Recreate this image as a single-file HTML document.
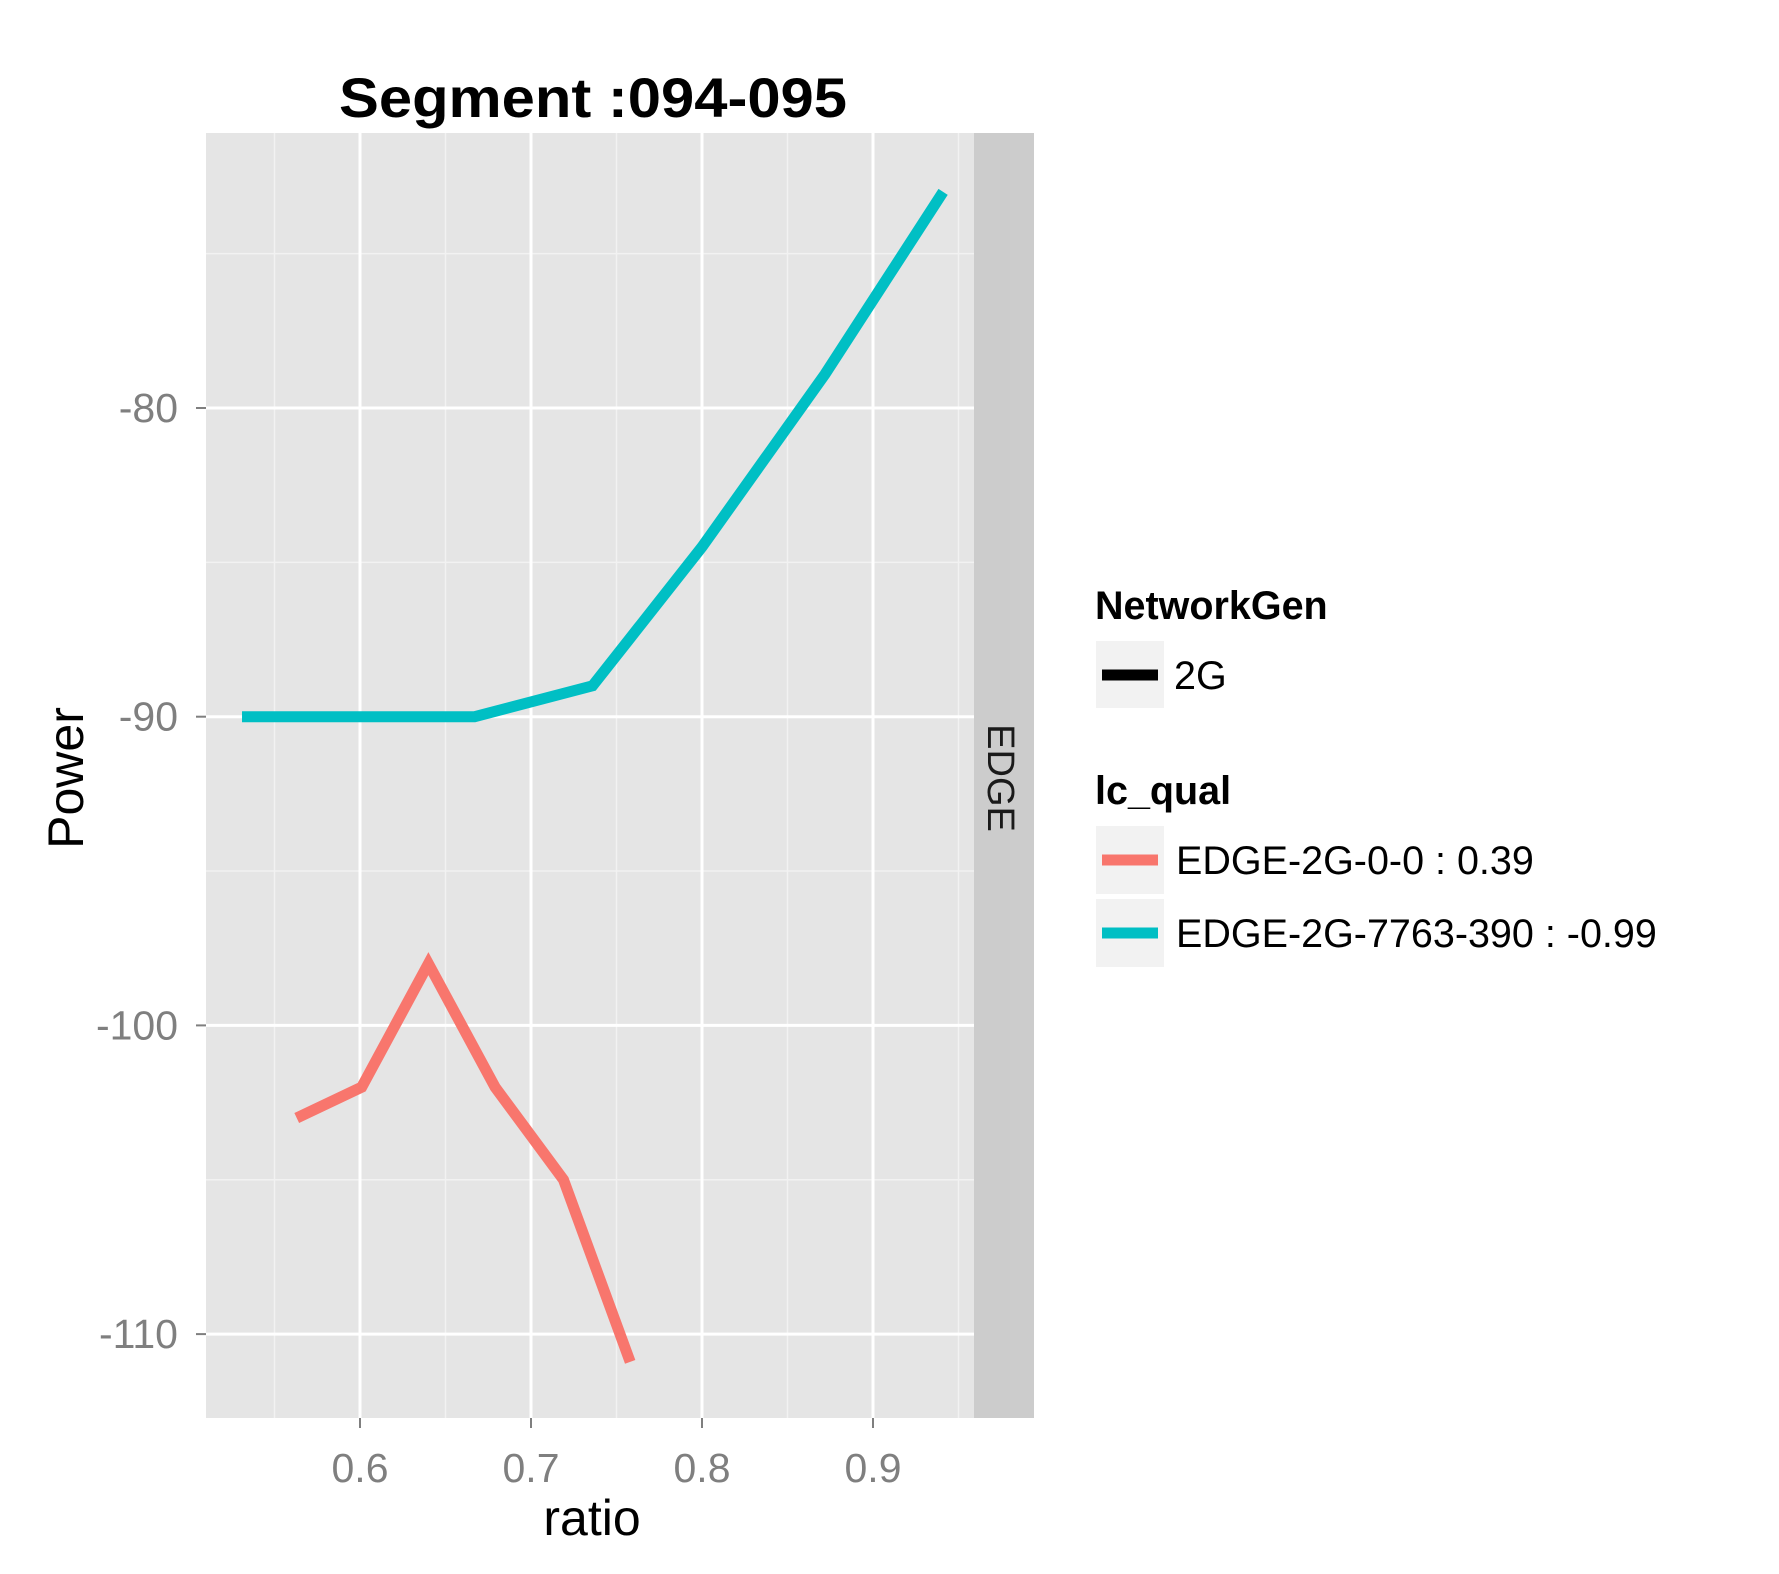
<!DOCTYPE html>
<html><head><meta charset="utf-8"><style>
html,body{margin:0;padding:0;background:#fff}
svg{display:block}
text{font-family:"Liberation Sans",Arial,sans-serif}
</style></head><body>
<svg id="chart" width="1779" height="1574" viewBox="0 0 1779 1574" xmlns="http://www.w3.org/2000/svg">
<rect width="1779" height="1574" fill="#fff"/>
<text x="593" y="117" font-size="56" font-weight="bold" text-anchor="middle" textLength="508" lengthAdjust="spacingAndGlyphs">Segment :094-095</text>
<rect x="206" y="133" width="768" height="1285" fill="#e5e5e5"/>
<g id="grid"></g>
<g id="series"></g>
<rect x="974" y="133" width="60" height="1285" fill="#cccccc"/>
<text transform="translate(988,778) rotate(90)" font-size="38" text-anchor="middle" fill="#1a1a1a">EDGE</text>
<g id="axes"></g>
<text x="592" y="1535" font-size="50" text-anchor="middle">ratio</text>
<text transform="translate(83,778) rotate(-90)" font-size="50" text-anchor="middle">Power</text>
<g>
<text x="1095" y="619" font-size="39.5" font-weight="bold">NetworkGen</text>
<rect x="1096" y="641" width="68" height="67" fill="#f2f2f2"/>
<line x1="1102" y1="675" x2="1158" y2="675" stroke="#000" stroke-width="11"/>
<text x="1174" y="689" font-size="39.5">2G</text>
<text x="1095" y="804" font-size="39.5" font-weight="bold">lc_qual</text>
<rect x="1096" y="826" width="68" height="68" fill="#f2f2f2"/>
<line x1="1102" y1="860" x2="1158" y2="860" stroke="#f8766d" stroke-width="11"/>
<text x="1176" y="874" font-size="39.5">EDGE-2G-0-0 : 0.39</text>
<rect x="1096" y="899" width="68" height="68" fill="#f2f2f2"/>
<line x1="1102" y1="933" x2="1158" y2="933" stroke="#00bfc4" stroke-width="11"/>
<text x="1176" y="947" font-size="39.5">EDGE-2G-7763-390 : -0.99</text>
</g>
</svg>
<script>
const xTicks = [0.6, 0.7, 0.8, 0.9];
const xTickLabels = ["0.6", "0.7", "0.8", "0.9"];
const xMinor = [0.55, 0.65, 0.75, 0.85, 0.95];
const yTicks = [-80, -90, -100, -110];
const yTickLabels = ["-80", "-90", "-100", "-110"];
const yMinor = [-75, -85, -95, -105];
const cyanX = [0.531, 0.6, 0.667, 0.736, 0.8, 0.872, 0.941];
const cyanY = [-90, -90, -90, -89, -84.5, -78.9, -73.0];
const redX = [0.563, 0.601, 0.640, 0.679, 0.719, 0.758];
const redY = [-103, -102, -98, -102, -105, -110.9];

const NS = "http://www.w3.org/2000/svg";
function sx(v){ return 360 + (v - 0.6) * 1710; }
function sy(v){ return 408 + (-80 - v) * 30.87; }
const grid = document.getElementById('grid');
const axes = document.getElementById('axes');
const series = document.getElementById('series');
function mk(tag, attrs, parent){ const e = document.createElementNS(NS, tag); for (const k in attrs) e.setAttribute(k, attrs[k]); parent.appendChild(e); return e; }
xMinor.forEach(v => { const x = sx(v); if (x > 206 && x < 974) {
  const l = mk('line', {x1:x, x2:x, y1:133, y2:1418, stroke:'#f2f2f2', 'stroke-width':1.5}, grid);
  
   } });
yMinor.forEach(v => {
  const l = mk('line', {x1:206, x2:974, y1:sy(v), y2:sy(v), stroke:'#f2f2f2', 'stroke-width':1.5}, grid);
  
   });
xTicks.forEach((v, i) => { const x = sx(v);
  const l = mk('line', {x1:x, x2:x, y1:133, y2:1418, stroke:'#fff', 'stroke-width':3}, grid);
  
  
  const t = mk('line', {x1:x, x2:x, y1:1418, y2:1428, stroke:'#7f7f7f', 'stroke-width':2}, axes);
  
  
  const tx = mk('text', {x:x, y:1482, 'font-size':41, 'text-anchor':'middle', fill:'#7f7f7f'}, axes);
  tx.textContent = xTickLabels[i];
  
   });
yTicks.forEach((v, i) => { const y = sy(v);
  const l = mk('line', {x1:206, x2:974, y1:y, y2:y, stroke:'#fff', 'stroke-width':3}, grid);
  
  
  const t = mk('line', {x1:196, x2:206, y1:y, y2:y, stroke:'#7f7f7f', 'stroke-width':2}, axes);
  
  
  const tx = mk('text', {x:178, y:y + 14, 'font-size':41, 'text-anchor':'end', fill:'#7f7f7f'}, axes);
  tx.textContent = yTickLabels[i];
  
   });
function line(xs, ys, color, name){
  const pts = xs.map((x, i) => sx(x) + ',' + sy(ys[i])).join(' ');
  const p = mk('polyline', {points:pts, fill:'none', stroke:color, 'stroke-width':11}, series);
  
  
}
line(cyanX, cyanY, '#00bfc4', 'series-edge-2g-7763-390');
line(redX, redY, '#f8766d', 'series-edge-2g-0-0');
</script>
</body></html>
